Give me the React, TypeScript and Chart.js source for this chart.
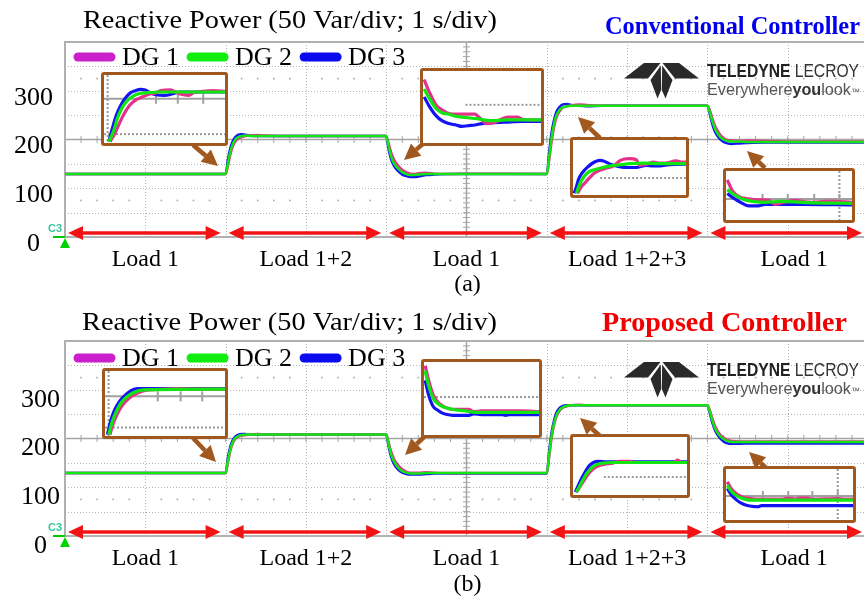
import React, { useEffect, useRef } from 'react';
import { Chart, registerables } from 'chart.js';

Chart.register(...registerables);

const SERIF = '"Liberation Serif", "Times New Roman", Times, serif';
const SANS = '"Liberation Sans", Arial, Helvetica, sans-serif';

// ---------------- main traces (time in s, reactive power in Var) ----------------
const TIME_S = [0,
  2.0, 2.03, 2.06, 2.09, 2.12, 2.16, 2.2, 2.25, 2.3, 2.4, 2.5, 2.7, 3.0,
  4.0, 4.03, 4.06, 4.1, 4.15, 4.2, 4.25, 4.3, 4.35, 4.4, 4.5, 4.6, 4.8, 5.0,
  6.0, 6.03, 6.06, 6.09, 6.12, 6.16, 6.2, 6.25, 6.3, 6.4, 6.5, 6.7, 7.0,
  8.0, 8.03, 8.06, 8.1, 8.15, 8.2, 8.25, 8.3, 8.4, 8.5, 8.7, 9.0, 9.5, 10.0];

const DG1_CONV = [129,
  129, 146, 170, 186, 196, 202, 205, 207, 208, 209, 208, 207, 207,
  207, 192, 174, 158, 146, 138, 133, 130, 129, 131, 132, 130, 129, 130,
  129, 158, 196, 225, 245, 258, 265, 268, 270, 272, 271, 269, 269,
  269, 260, 244, 226, 212, 203, 199, 198, 197, 198, 197, 196, 196, 196];
const DG2_CONV = [129,
  129, 152, 176, 191, 200, 205, 207, 208, 207, 207, 207, 207, 207,
  207, 186, 166, 150, 140, 133, 129, 127, 127, 128, 129, 129, 129, 129,
  129, 165, 205, 232, 250, 261, 266, 268, 269, 269, 269, 269, 269,
  269, 256, 238, 220, 207, 200, 197, 196, 196, 195, 195, 195, 195, 195];
const DG3_CONV = [129,
  129, 160, 183, 197, 205, 210, 211, 210, 208, 207, 207, 207, 207,
  207, 180, 160, 145, 135, 128, 125, 123, 123, 124, 127, 128, 129, 129,
  129, 175, 215, 240, 257, 267, 272, 273, 271, 269, 268, 269, 269,
  269, 252, 232, 214, 202, 195, 192, 191, 192, 193, 194, 194, 194, 194];

const DG1_PROP = [129,
  129, 152, 175, 190, 199, 204, 206, 207, 208, 209, 208, 208, 208,
  208, 192, 174, 157, 145, 137, 132, 130, 130, 130, 131, 130, 129, 129,
  129, 163, 201, 227, 245, 257, 263, 266, 268, 269, 268, 268, 268,
  268, 258, 242, 224, 210, 202, 197, 195, 194, 194, 194, 194, 194, 194];
const DG2_PROP = [129,
  129, 156, 179, 193, 201, 205, 207, 208, 208, 208, 208, 208, 208,
  208, 188, 168, 152, 140, 133, 130, 128, 128, 128, 129, 129, 129, 129,
  129, 168, 206, 231, 248, 259, 264, 267, 268, 268, 268, 268, 268,
  268, 255, 237, 219, 206, 199, 195, 193, 193, 193, 193, 193, 193, 193];
const DG3_PROP = [129,
  129, 162, 184, 197, 204, 208, 209, 209, 208, 208, 208, 208, 208,
  208, 184, 163, 147, 136, 130, 127, 126, 126, 126, 127, 128, 128, 128,
  128, 175, 213, 237, 253, 263, 267, 268, 268, 268, 268, 268, 268,
  268, 252, 233, 215, 202, 194, 190, 189, 189, 190, 190, 190, 190, 190];

const SERIES_NAMES = ['DG 1', 'DG 2', 'DG 3'];
const Y_TICK_VALUES = [0, 100, 200, 300];
const LOAD_LABELS = ['Load 1', 'Load 1+2', 'Load 1', 'Load 1+2+3', 'Load 1'];
const LOAD_STEP_TIMES = [0, 2, 4, 6, 8, 10];
const TITLE_TEXT = 'Reactive Power (50 Var/div; 1 s/div)';

// ---------------- zoomed insets (x: % of inset width, y: % of inset height) ----------------
const CONV_IN1_DG1 = [[5, 2], [9, 14], [13, 30], [17, 44], [21, 55], [26, 63], [32, 68], [38, 72], [43, 74], [47, 77], [55, 78], [58, 76], [63, 72], [70, 70], [74, 74], [82, 76], [90, 77], [100, 76]];
const CONV_IN1_DG2 = [[4, 2], [8, 18], [11, 36], [15, 52], [19, 62], [24, 69], [30, 73], [36, 74], [45, 75], [100, 75]];
const CONV_IN1_DG3 = [[4, 2], [7, 22], [10, 40], [14, 56], [18, 67], [22, 74], [26, 77], [30, 79], [34, 78], [38, 74], [43, 71], [50, 70], [56, 72], [62, 75], [100, 75]];

const CONV_IN2_DG1 = [[1, 88], [5, 72], [11, 53], [16, 46], [22, 41], [28, 40], [33, 40], [44, 40], [48, 35], [54, 27], [60, 28], [65, 32], [72, 36], [80, 36], [84, 33], [92, 32], [100, 32]];
const CONV_IN2_DG2 = [[1, 75], [5, 63], [11, 48], [16, 42], [22, 40], [28, 37], [33, 36], [44, 34], [58, 31], [70, 32], [85, 32], [100, 32]];
const CONV_IN2_DG3 = [[1, 64], [5, 52], [11, 38], [16, 31], [22, 27], [28, 25], [33, 23], [38, 24], [44, 25], [50, 27], [58, 28], [70, 29], [85, 30], [100, 30]];

const CONV_IN3_DG1 = [[4, 3], [7, 14], [11, 23], [15, 32], [19, 40], [25, 46], [30, 49], [36, 53], [42, 63], [50, 66], [56, 64], [59, 54], [65, 56], [71, 60], [77, 58], [82, 58], [91, 62], [97, 60], [100, 60]];
const CONV_IN3_DG2 = [[3, 3], [6, 20], [10, 34], [14, 42], [19, 46], [26, 50], [33, 53], [42, 55], [50, 57], [62, 58], [77, 57], [100, 57]];
const CONV_IN3_DG3 = [[1, 3], [3, 15], [5, 29], [8, 40], [13, 51], [19, 60], [24, 63], [27, 62], [33, 56], [40, 52], [45, 50], [56, 50], [62, 53], [65, 54], [71, 53], [77, 53], [85, 55], [97, 56], [100, 56]];

const CONV_IN4_DG1 = [[1, 82], [5, 60], [10, 48], [18, 43], [26, 41], [34, 40], [39, 32], [44, 35], [55, 40], [60, 38], [70, 36], [78, 38], [86, 38], [100, 36]];
const CONV_IN4_DG2 = [[1, 62], [7, 51], [13, 43], [21, 38], [31, 36], [44, 38], [60, 36], [70, 35], [100, 34]];
const CONV_IN4_DG3 = [[1, 54], [7, 43], [13, 34], [18, 29], [26, 29], [31, 32], [44, 32], [60, 32], [100, 31]];

const PROP_IN1_DG1 = [[4, 2], [7, 20], [10, 33], [14, 46], [20, 58], [27, 66], [36, 71], [50, 72], [60, 73], [75, 72], [100, 72]];
const PROP_IN1_DG2 = [[3, 2], [6, 22], [9, 36], [13, 50], [18, 60], [24, 67], [32, 71], [100, 72]];
const PROP_IN1_DG3 = [[2, 2], [5, 25], [8, 40], [12, 53], [17, 63], [22, 70], [27, 73], [100, 73]];

const PROP_IN2_DG1 = [[1, 95], [4, 75], [8, 55], [12, 45], [16, 40], [20, 37], [25, 35], [39, 35], [43, 32], [50, 33], [70, 33], [85, 33], [100, 32]];
const PROP_IN2_DG2 = [[1, 88], [4, 68], [8, 50], [12, 43], [16, 39], [20, 37], [25, 35], [36, 33], [45, 31], [100, 31]];
const PROP_IN2_DG3 = [[1, 75], [4, 55], [8, 39], [12, 34], [16, 30], [20, 28], [25, 27], [39, 27], [43, 29], [50, 28], [68, 28], [71, 27], [74, 28], [100, 28]];

const PROP_IN3_DG1 = [[3, 5], [6, 14], [10, 26], [13, 35], [17, 44], [22, 50], [28, 53], [35, 55], [41, 58], [50, 58], [55, 56], [88, 56], [92, 60], [95, 56], [100, 56]];
const PROP_IN3_DG2 = [[3, 5], [6, 16], [9, 27], [12, 37], [16, 46], [20, 52], [26, 55], [35, 56], [100, 56]];
const PROP_IN3_DG3 = [[2, 5], [5, 18], [8, 30], [11, 41], [14, 50], [18, 56], [22, 58], [30, 57], [100, 57]];

const PROP_IN4_DG1 = [[1, 75], [4, 62], [8, 52], [12, 46], [16, 43], [20, 42], [25, 41], [45, 41], [48, 43], [55, 41], [58, 43], [64, 43], [67, 41], [88, 42], [93, 41], [100, 41]];
const PROP_IN4_DG2 = [[1, 68], [4, 57], [8, 48], [12, 43], [16, 40], [20, 39], [100, 39]];
const PROP_IN4_DG3 = [[1, 62], [4, 50], [8, 40], [12, 33], [16, 29], [20, 27], [25, 26], [28, 28], [100, 28]];

// ---------------- styles ----------------
const TRACE_COLORS = ['#e4328a', '#12e612', '#1414f2'];
const LEGEND_COLORS = ['#cc1fcc', '#10ee10', '#0a0aee'];
const TRACE_ORDER = [1, 0, 2];
const BROWN = '#a0581f';
const RED = '#f21414';

type Callout = [number, number, number, number];

const PANEL_A = {
  top: 0, height: 300, dg: [DG1_CONV, DG2_CONV, DG3_CONV],
  title: { x: 83, y: 21, w: 414 },
  ctrl: { text: 'Conventional Controller', color: '#0000ee', size: 25, x: 605, y: 28, w: 255 },
  legendY: 57, tickPad: 12, labelOffset: 7, caption: '(a)', captionY: 285, labelY: 260, loadArrowY: 233, logoY: 63,
  callouts: [[193, 145, 218, 166], [424, 143, 404, 160], [600, 138, 578, 117], [765, 168, 747, 151]] as Callout[],
};
const PANEL_B = {
  top: 299, height: 304, dg: [DG1_PROP, DG2_PROP, DG3_PROP],
  title: { x: 82, y: 24, w: 415 },
  ctrl: { text: 'Proposed Controller', color: '#f00000', size: 28, x: 602, y: 25, w: 245 },
  legendY: 59, tickPad: 5, labelOffset: 10, caption: '(b)', captionY: 286, labelY: 260, loadArrowY: 233, logoY: 63,
  callouts: [[193, 139, 216, 163], [424, 138, 405, 156], [600, 137, 580, 119], [766, 169, 749, 153]] as Callout[],
};

const INSETS = [
  { box: [101, 72, 127, 74], series: [CONV_IN1_DG1, CONV_IN1_DG2, CONV_IN1_DG3], grid: { solid: 65, ticks: [43, 61, 82], dotted: [[13, 0, 100]], vDotted: [3] } },
  { box: [420, 68, 124, 78], series: [CONV_IN2_DG1, CONV_IN2_DG2, CONV_IN2_DG3], grid: { solid: null, ticks: [], dotted: [[53, 36, 100]], vDotted: [] } },
  { box: [570, 137, 119, 61], series: [CONV_IN3_DG1, CONV_IN3_DG2, CONV_IN3_DG3], grid: { solid: null, ticks: [], dotted: [[31, 24, 100]], vDotted: [] } },
  { box: [723, 168, 132, 55], series: [CONV_IN4_DG1, CONV_IN4_DG2, CONV_IN4_DG3], grid: { solid: 43, ticks: [29, 49, 70, 90], dotted: [], vDotted: [90] } },
  { box: [102, 368, 126, 71], series: [PROP_IN1_DG1, PROP_IN1_DG2, PROP_IN1_DG3], grid: { solid: 61, ticks: [44, 63, 81], dotted: [[13, 0, 100]], vDotted: [3] } },
  { box: [421, 359, 121, 79], series: [PROP_IN2_DG1, PROP_IN2_DG2, PROP_IN2_DG3], grid: { solid: null, ticks: [], dotted: [[52, 0, 100]], vDotted: [] } },
  { box: [570, 434, 120, 64], series: [PROP_IN3_DG1, PROP_IN3_DG2, PROP_IN3_DG3], grid: { solid: null, ticks: [], dotted: [[31, 27, 100]], vDotted: [] } },
  { box: [723, 466, 133, 57], series: [PROP_IN4_DG1, PROP_IN4_DG2, PROP_IN4_DG3], grid: { solid: 47, ticks: [29, 49, 68, 88], dotted: [], vDotted: [88] } },
];

// ---------------- drawing helpers ----------------
function fitText(ctx: CanvasRenderingContext2D, text: string, x: number, y: number, width: number, font: string, color: string) {
  ctx.save();
  ctx.font = font;
  ctx.fillStyle = color;
  ctx.textAlign = 'left';
  ctx.textBaseline = 'middle';
  const w = ctx.measureText(text).width;
  ctx.translate(x, y);
  ctx.scale(width / w, 1);
  ctx.fillText(text, 0, 0);
  ctx.restore();
}

function drawRuns(ctx: CanvasRenderingContext2D, runs: { t: string; f: string; c: string }[], x: number, baseline: number, width: number) {
  ctx.save();
  ctx.textAlign = 'left';
  ctx.textBaseline = 'alphabetic';
  let total = 0;
  const ws = runs.map((r) => { ctx.font = r.f; const w = ctx.measureText(r.t).width; total += w; return w; });
  ctx.translate(x, baseline);
  ctx.scale(width / total, 1);
  let cx = 0;
  runs.forEach((r, i) => { ctx.font = r.f; ctx.fillStyle = r.c; ctx.fillText(r.t, cx, 0); cx += ws[i]; });
  ctx.restore();
}

function arrowHead(ctx: CanvasRenderingContext2D, tipX: number, tipY: number, fromX: number, fromY: number, len: number, half: number) {
  const a = Math.atan2(tipY - fromY, tipX - fromX);
  const bx = tipX - len * Math.cos(a);
  const by = tipY - len * Math.sin(a);
  ctx.beginPath();
  ctx.moveTo(tipX, tipY);
  ctx.lineTo(bx + half * Math.sin(a), by - half * Math.cos(a));
  ctx.lineTo(bx - half * Math.sin(a), by + half * Math.cos(a));
  ctx.closePath();
  ctx.fill();
  return [bx, by];
}

function drawLogo(ctx: CanvasRenderingContext2D, y: number) {
  const ox = 624;
  ctx.save();
  ctx.fillStyle = '#2a2a2a';
  const polys = [
    [[0, 15.5], [20, 0], [36.5, 0], [24, 15.5]],
    [[75, 15.5], [55, 0], [38.5, 0], [51, 15.5]],
    [[26.5, 17], [36.8, 2.5], [37.2, 27], [33.5, 35.5]],
    [[48.5, 17], [38.2, 2.5], [37.8, 27], [41.5, 35.5]],
  ];
  for (const p of polys) {
    ctx.beginPath();
    p.forEach(([px, py], i) => (i ? ctx.lineTo(ox + px, y + py) : ctx.moveTo(ox + px, y + py)));
    ctx.closePath();
    ctx.fill();
  }
  drawRuns(ctx, [
    { t: 'TELEDYNE', f: `bold 18px ${SANS}`, c: '#222' },
    { t: ' LECROY', f: `18px ${SANS}`, c: '#333' },
  ], 707, y + 14, 152);
  drawRuns(ctx, [
    { t: 'Everywhere', f: `16px ${SANS}`, c: '#555' },
    { t: 'you', f: `bold 16px ${SANS}`, c: '#333' },
    { t: 'look', f: `16px ${SANS}`, c: '#555' },
    { t: '\u2122', f: `9px ${SANS}`, c: '#555' },
  ], 707, y + 32, 153);
  ctx.restore();
}

type PanelCfg = typeof PANEL_A;

function scopePlugin(cfg: PanelCfg) {
  return {
    id: 'scopeDecor',
    beforeDatasetsDraw(chart: any) {
      const { ctx, chartArea: ca, scales } = chart;
      const xs = scales.x;
      const ys = scales.y;
      const right = chart.width;
      ctx.save();
      // dotted division grid
      ctx.strokeStyle = '#b3b3b3';
      ctx.lineWidth = 1;
      ctx.setLineDash([1, 2]);
      for (let t = 1; t <= 9; t++) {
        if (t === 5) continue;
        const px = Math.round(xs.getPixelForValue(t)) + 0.5;
        ctx.beginPath(); ctx.moveTo(px, ca.top); ctx.lineTo(px, ca.bottom); ctx.stroke();
      }
      for (let v = 50; v <= 350; v += 50) {
        if (v === 200) continue;
        const py = Math.round(ys.getPixelForValue(v)) + 0.5;
        ctx.beginPath(); ctx.moveTo(ca.left, py); ctx.lineTo(right, py); ctx.stroke();
      }
      ctx.setLineDash([]);
      // sub-division dot rows
      ctx.fillStyle = '#a8a8a8';
      for (const v of [75, 325]) {
        const py = ys.getPixelForValue(v);
        for (let k = 1; k < 50; k++) {
          if (k % 5 === 0) continue;
          const px = xs.getPixelForValue(k * 0.2);
          ctx.fillRect(px - 0.8, py - 0.8, 1.6, 1.6);
        }
      }
      // centre axes with minor ticks
      ctx.strokeStyle = '#a4a4a4';
      ctx.lineWidth = 1.5;
      const cy = ys.getPixelForValue(200);
      const cx = xs.getPixelForValue(5);
      ctx.beginPath(); ctx.moveTo(ca.left, cy); ctx.lineTo(right, cy); ctx.stroke();
      ctx.beginPath(); ctx.moveTo(cx, ca.top); ctx.lineTo(cx, ca.bottom); ctx.stroke();
      ctx.lineWidth = 1;
      for (let k = 1; k < 50; k++) {
        const px = xs.getPixelForValue(k * 0.2);
        ctx.beginPath(); ctx.moveTo(px, cy - 3.5); ctx.lineTo(px, cy + 3.5); ctx.stroke();
      }
      for (let v = 10; v < 400; v += 10) {
        const py = ys.getPixelForValue(v);
        ctx.beginPath(); ctx.moveTo(cx - 3.5, py); ctx.lineTo(cx + 3.5, py); ctx.stroke();
      }
      // frame
      ctx.strokeStyle = '#b0b0b0';
      ctx.lineWidth = 2;
      ctx.beginPath();
      ctx.moveTo(right, ca.top); ctx.lineTo(ca.left, ca.top); ctx.lineTo(ca.left, ca.bottom); ctx.lineTo(right, ca.bottom);
      ctx.stroke();
      ctx.restore();
    },
    afterDatasetsDraw(chart: any) {
      const { ctx, chartArea: ca, scales } = chart;
      const xs = scales.x;
      ctx.save();
      // titles
      fitText(ctx, TITLE_TEXT, cfg.title.x, cfg.title.y, cfg.title.w, `25px ${SERIF}`, '#000');
      fitText(ctx, cfg.ctrl.text, cfg.ctrl.x, cfg.ctrl.y, cfg.ctrl.w, `bold ${cfg.ctrl.size}px ${SERIF}`, cfg.ctrl.color);
      // legend
      ctx.font = `26px ${SERIF}`;
      ctx.textBaseline = 'middle';
      ctx.textAlign = 'left';
      let lx = 78;
      SERIES_NAMES.forEach((name, i) => {
        ctx.strokeStyle = LEGEND_COLORS[i];
        ctx.lineWidth = 9;
        ctx.lineCap = 'round';
        ctx.beginPath(); ctx.moveTo(lx, cfg.legendY); ctx.lineTo(lx + 33, cfg.legendY); ctx.stroke();
        ctx.fillStyle = '#000';
        const tx = lx + 44;
        ctx.fillText(name, tx, cfg.legendY + 1);
        lx = tx + ctx.measureText(name).width + 12;
      });
      ctx.lineCap = 'butt';
      // logo
      drawLogo(ctx, cfg.logoY);
      // load intervals
      ctx.fillStyle = RED;
      ctx.strokeStyle = RED;
      ctx.lineWidth = 3.5;
      const ay = cfg.loadArrowY;
      for (let i = 0; i < LOAD_LABELS.length; i++) {
        const x0 = xs.getPixelForValue(LOAD_STEP_TIMES[i]) + 3;
        const x1 = Math.min(xs.getPixelForValue(LOAD_STEP_TIMES[i + 1]) - 5, chart.width - 2);
        ctx.beginPath(); ctx.moveTo(x0 + 10, ay); ctx.lineTo(x1 - 10, ay); ctx.stroke();
        arrowHead(ctx, x0, ay, x1, ay, 15, 7);
        arrowHead(ctx, x1, ay, x0, ay, 15, 7);
      }
      ctx.fillStyle = '#000';
      ctx.font = `24px ${SERIF}`;
      ctx.textAlign = 'center';
      ctx.textBaseline = 'middle';
      for (let i = 0; i < LOAD_LABELS.length; i++) {
        const x0 = xs.getPixelForValue(LOAD_STEP_TIMES[i]) + 3;
        const x1 = Math.min(xs.getPixelForValue(LOAD_STEP_TIMES[i + 1]) - 5, chart.width - 2);
        ctx.fillText(LOAD_LABELS[i], (x0 + x1) / 2 + (i === 4 ? 8 : 1), cfg.labelY);
      }
      ctx.fillText(cfg.caption, xs.getPixelForValue(5) + 1, cfg.captionY);
      // channel marker
      ctx.textAlign = 'left';
      ctx.font = `bold 11px ${SANS}`;
      ctx.fillStyle = '#3cc49a';
      ctx.fillText('C3', 48, ca.bottom - 8);
      ctx.strokeStyle = '#00c800';
      ctx.lineWidth = 2;
      ctx.beginPath(); ctx.moveTo(53, ca.bottom); ctx.lineTo(65, ca.bottom); ctx.stroke();
      ctx.fillStyle = '#00d400';
      ctx.beginPath(); ctx.moveTo(65, ca.bottom + 1); ctx.lineTo(70, ca.bottom + 11); ctx.lineTo(60, ca.bottom + 11); ctx.closePath(); ctx.fill();
      // callout arrows
      ctx.fillStyle = BROWN;
      ctx.strokeStyle = BROWN;
      ctx.lineWidth = 4.5;
      for (const [x1, y1, x2, y2] of cfg.callouts) {
        const [bx, by] = arrowHead(ctx, x2, y2, x1, y1, 16, 8);
        ctx.beginPath(); ctx.moveTo(x1, y1); ctx.lineTo(bx, by); ctx.stroke();
      }
      ctx.restore();
    },
  };
}

function MainPanel({ cfg }: { cfg: PanelCfg }) {
  const ref = useRef<HTMLCanvasElement | null>(null);
  useEffect(() => {
    const datasets = SERIES_NAMES.map((name, i) => ({
      label: name,
      data: TIME_S.map((t, k) => ({ x: t, y: cfg.dg[i][k] })),
      borderColor: TRACE_COLORS[i],
      backgroundColor: TRACE_COLORS[i],
      borderWidth: 2.5,
      pointRadius: 0,
      fill: false,
      cubicInterpolationMode: 'monotone' as const,
      order: TRACE_ORDER[i],
    }));
    const chart = new Chart(ref.current as HTMLCanvasElement, {
      type: 'line',
      data: { datasets },
      options: {
        responsive: false,
        animation: false,
        events: [],
        layout: { padding: { top: 42, bottom: cfg.height - 237, left: 0, right: 0 } },
        plugins: { legend: { display: false }, tooltip: { enabled: false }, title: { display: false } },
        scales: {
          x: { type: 'linear', min: 0, max: 9.95, display: false },
          y: {
            type: 'linear', min: 0, max: 400,
            grid: { display: false, drawTicks: false },
            border: { display: false },
            ticks: {
              stepSize: 50, autoSkip: false, padding: cfg.tickPad, labelOffset: cfg.labelOffset,
              color: '#000', font: { family: SERIF, size: 26 },
              callback: (v: any) => (Y_TICK_VALUES.includes(Number(v)) ? (Number(v) === 0 ? '0\u00a0\u00a0' : String(v)) : ''),
            },
            afterFit: (s: any) => { s.width = 65; },
          },
        },
      } as any,
      plugins: [scopePlugin(cfg)],
    });
    return () => chart.destroy();
  }, []);
  return (
    <canvas ref={ref} width={864} height={cfg.height}
      style={{ position: 'absolute', left: 0, top: cfg.top, width: 864, height: cfg.height, display: 'block' }} />
  );
}

type InsetCfg = typeof INSETS[number];

function insetGridPlugin(grid: InsetCfg['grid']) {
  return {
    id: 'insetGrid',
    beforeDatasetsDraw(chart: any) {
      const { ctx, scales } = chart;
      const xs = scales.x;
      const ys = scales.y;
      ctx.save();
      ctx.strokeStyle = '#9a9a9a';
      ctx.lineWidth = 2;
      ctx.setLineDash([2, 2]);
      for (const [v, a, b] of grid.dotted) {
        const py = ys.getPixelForValue(v);
        ctx.beginPath(); ctx.moveTo(xs.getPixelForValue(a), py); ctx.lineTo(xs.getPixelForValue(b), py); ctx.stroke();
      }
      for (const v of grid.vDotted) {
        const px = xs.getPixelForValue(v);
        ctx.beginPath(); ctx.moveTo(px, ys.getPixelForValue(100)); ctx.lineTo(px, ys.getPixelForValue(0)); ctx.stroke();
      }
      ctx.setLineDash([]);
      if (grid.solid !== null) {
        const py = ys.getPixelForValue(grid.solid);
        ctx.strokeStyle = '#a0a0a0';
        ctx.lineWidth = 2;
        ctx.beginPath(); ctx.moveTo(0, py); ctx.lineTo(chart.width, py); ctx.stroke();
        for (const t of grid.ticks) {
          const px = xs.getPixelForValue(t);
          ctx.beginPath(); ctx.moveTo(px, py - 5); ctx.lineTo(px, py + 5); ctx.stroke();
        }
      }
      ctx.restore();
    },
  };
}

function Inset({ cfg }: { cfg: InsetCfg }) {
  const ref = useRef<HTMLCanvasElement | null>(null);
  const [l, t, w, h] = cfg.box;
  useEffect(() => {
    const datasets = cfg.series.map((pts, i) => ({
      label: SERIES_NAMES[i],
      data: pts.map(([x, y]) => ({ x, y })),
      borderColor: TRACE_COLORS[i],
      borderWidth: 3.2,
      pointRadius: 0,
      fill: false,
      cubicInterpolationMode: 'monotone' as const,
      order: TRACE_ORDER[i],
    }));
    const chart = new Chart(ref.current as HTMLCanvasElement, {
      type: 'line',
      data: { datasets },
      options: {
        responsive: false,
        animation: false,
        events: [],
        layout: { padding: 0 },
        plugins: { legend: { display: false }, tooltip: { enabled: false } },
        scales: {
          x: { type: 'linear', min: 0, max: 100, display: false },
          y: { type: 'linear', min: 0, max: 100, display: false },
        },
      } as any,
      plugins: [insetGridPlugin(cfg.grid)],
    });
    return () => chart.destroy();
  }, []);
  return (
    <div style={{
      position: 'absolute', left: l, top: t, width: w, height: h, boxSizing: 'border-box',
      border: `3px solid ${BROWN}`, borderRadius: 3, background: '#fff', overflow: 'hidden',
    }}>
      <canvas ref={ref} width={w - 6} height={h - 6} style={{ display: 'block', width: w - 6, height: h - 6 }} />
    </div>
  );
}

export default function App() {
  return (
    <div style={{ position: 'absolute', left: 0, top: 0, width: 864, height: 603, background: '#fff', overflow: 'hidden' }}>
      <MainPanel cfg={PANEL_A} />
      <MainPanel cfg={PANEL_B} />
      {INSETS.map((c, i) => <Inset key={i} cfg={c} />)}
    </div>
  );
}
